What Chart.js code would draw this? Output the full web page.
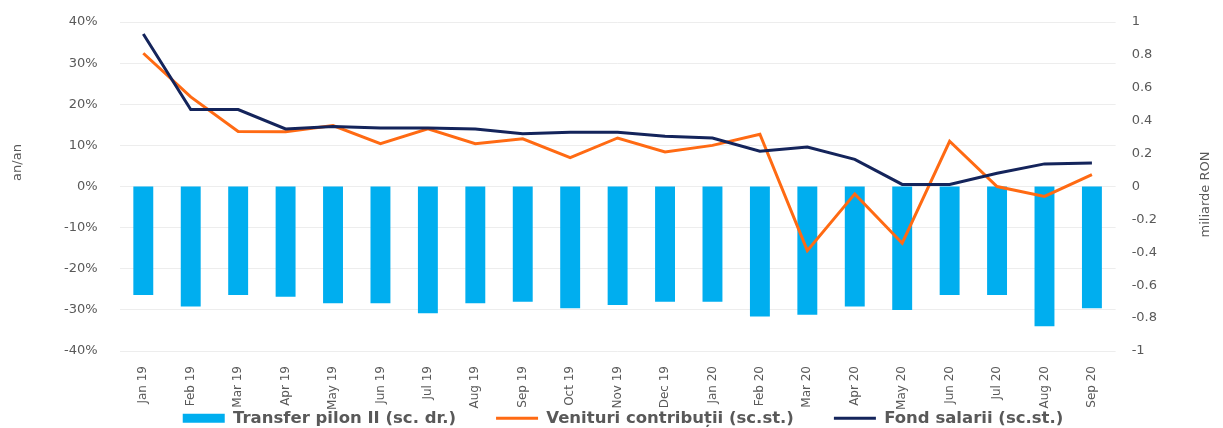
<!DOCTYPE html>
<html>
<head>
<meta charset="utf-8">
<script src="https://cdn.jsdelivr.net/npm/chart.js@4/dist/chart.umd.min.js"></script>
<style>
  body { margin: 0; background: #fff; }
  #wrap { width: 1223px; height: 428px; position: relative; }
</style>
</head>
<body>
<div id="wrap"><canvas id="grafic"></canvas></div>
<script>
// Date
const luni = ['Jan 19', 'Feb 19', 'Mar 19', 'Apr 19', 'May 19', 'Jun 19', 'Jul 19', 'Aug 19', 'Sep 19',
  'Oct 19', 'Nov 19', 'Dec 19', 'Jan 20', 'Feb 20', 'Mar 20', 'Apr 20', 'May 20', 'Jun 20', 'Jul 20',
  'Aug 20', 'Sep 20'];

// miliarde RON (scala dreapta)
const transferPilon = [-0.66, -0.73, -0.66, -0.67, -0.71, -0.71, -0.77, -0.71, -0.70, -0.74, -0.72,
  -0.70, -0.70, -0.79, -0.78, -0.73, -0.75, -0.66, -0.66, -0.85, -0.74];

// % an/an (scala stanga)
const venituriContributii = [32.4, 21.8, 13.4, 13.3, 14.8, 10.4, 14.0, 10.4, 11.6, 7.0, 11.8, 8.4,
  10.0, 12.7, -15.6, -1.8, -13.8, 11.0, 0.0, -2.4, 2.9];
const fondSalarii = [37.1, 18.7, 18.7, 14.0, 14.6, 14.2, 14.2, 14.0, 12.8, 13.2, 13.2, 12.2, 11.8,
  8.6, 9.6, 6.6, 0.5, 0.5, 3.2, 5.5, 5.7];

const ticksStanga = [-40, -30, -20, -10, 0, 10, 20, 30, 40];
const ticksDreapta = [-1, -0.8, -0.6, -0.4, -0.2, 0, 0.2, 0.4, 0.6, 0.8, 1];

const gri = '#595959';
const fontTick = { family: '"DejaVu Sans", sans-serif', size: 13 };

// titlurile axelor, citite de jos in sus
function scrieTitlu(c, text, x, y) {
  c.save();
  c.translate(x, y);
  c.rotate(-Math.PI / 2);
  c.fillStyle = gri;
  c.font = '13px "DejaVu Sans", sans-serif';
  c.textAlign = 'center';
  c.textBaseline = 'middle';
  c.fillText(text, 0, 0);
  c.restore();
}

const titluriAxe = {
  id: 'titluriAxe',
  afterDraw(chart) {
    const mijloc = (chart.chartArea.top + chart.chartArea.bottom) / 2;
    scrieTitlu(chart.ctx, 'an/an', chart.scales.ySt.left - 5, mijloc - 24);
    scrieTitlu(chart.ctx, 'miliarde RON', chart.scales.yDr.left + 90, mijloc + 8);
  }
};

// fara spatiu suplimentar sus/jos din cauza padding-ului etichetelor
function faraPaddingVertical(scale) {
  scale.paddingTop = 0;
  scale.paddingBottom = 0;
}

const ctx = document.getElementById('grafic').getContext('2d');
new Chart(ctx, {
  data: {
    labels: luni,
    datasets: [
      {
        type: 'bar',
        label: 'Transfer pilon II (sc. dr.)',
        data: transferPilon,
        backgroundColor: '#00AEEF',
        borderWidth: 0,
        yAxisID: 'yDr',
        categoryPercentage: 1,
        barPercentage: 0.42,
        pointStyle: 'rect',
        order: 3
      },
      {
        type: 'line',
        label: 'Venituri contribuții (sc.st.)',
        data: venituriContributii,
        borderColor: '#FF6A13',
        backgroundColor: '#FF6A13',
        borderWidth: 3,
        pointRadius: 0,
        tension: 0,
        yAxisID: 'ySt',
        pointStyle: 'line',
        order: 2
      },
      {
        type: 'line',
        label: 'Fond salarii (sc.st.)',
        data: fondSalarii,
        borderColor: '#14245B',
        backgroundColor: '#14245B',
        borderWidth: 3,
        pointRadius: 0,
        tension: 0,
        yAxisID: 'ySt',
        pointStyle: 'line',
        order: 1
      }
    ]
  },
  options: {
    responsive: true,
    maintainAspectRatio: false,
    animation: false,
    layout: { padding: { left: 23, right: 0, top: 22, bottom: 0 } },
    plugins: {
      tooltip: { enabled: false },
      legend: {
        position: 'bottom',
        maxHeight: 58,
        labels: {
          usePointStyle: true,
          pointStyleWidth: 42,
          boxHeight: 9,
          padding: 40,
          color: gri,
          sort: (a, b) => a.datasetIndex - b.datasetIndex,
          font: { family: '"DejaVu Sans", sans-serif', size: 16.5, weight: 'bold' }
        }
      }
    },
    scales: {
      x: {
        grid: { display: false },
        border: { display: false },
        // axa ocupa putin loc, etichetele intra in spatiul liber de deasupra legendei
        afterFit: function (scale) {
          scale.height = 19;
          scale._computeLabelArea = function () { return undefined; };
        },
        ticks: {
          color: gri,
          font: { family: '"DejaVu Sans", sans-serif', size: 12 },
          minRotation: 90,
          maxRotation: 90,
          autoSkip: false,
          padding: 7
        }
      },
      ySt: {
        position: 'left',
        min: -40,
        max: 40,
        afterBuildTicks: function (axis) { axis.ticks = ticksStanga.map(v => ({ value: v })); },
        afterFit: function (scale) {
          faraPaddingVertical(scale);
          scale.width += 19;
        },
        grid: { color: '#EDEDED', drawTicks: false, lineWidth: 1 },
        border: { display: false },
        ticks: { color: gri, font: fontTick, padding: 22, callback: v => v + '%' }
      },
      yDr: {
        position: 'right',
        min: -1,
        max: 1,
        afterBuildTicks: function (axis) { axis.ticks = ticksDreapta.map(v => ({ value: v })); },
        afterFit: function (scale) {
          faraPaddingVertical(scale);
          scale.width += 50;
        },
        grid: { display: false, drawTicks: false },
        border: { display: false },
        ticks: { color: gri, font: fontTick, padding: 16, callback: v => String(Math.round(v * 10) / 10) }
      }
    }
  },
  plugins: [titluriAxe]
});
</script>
</body>
</html>
